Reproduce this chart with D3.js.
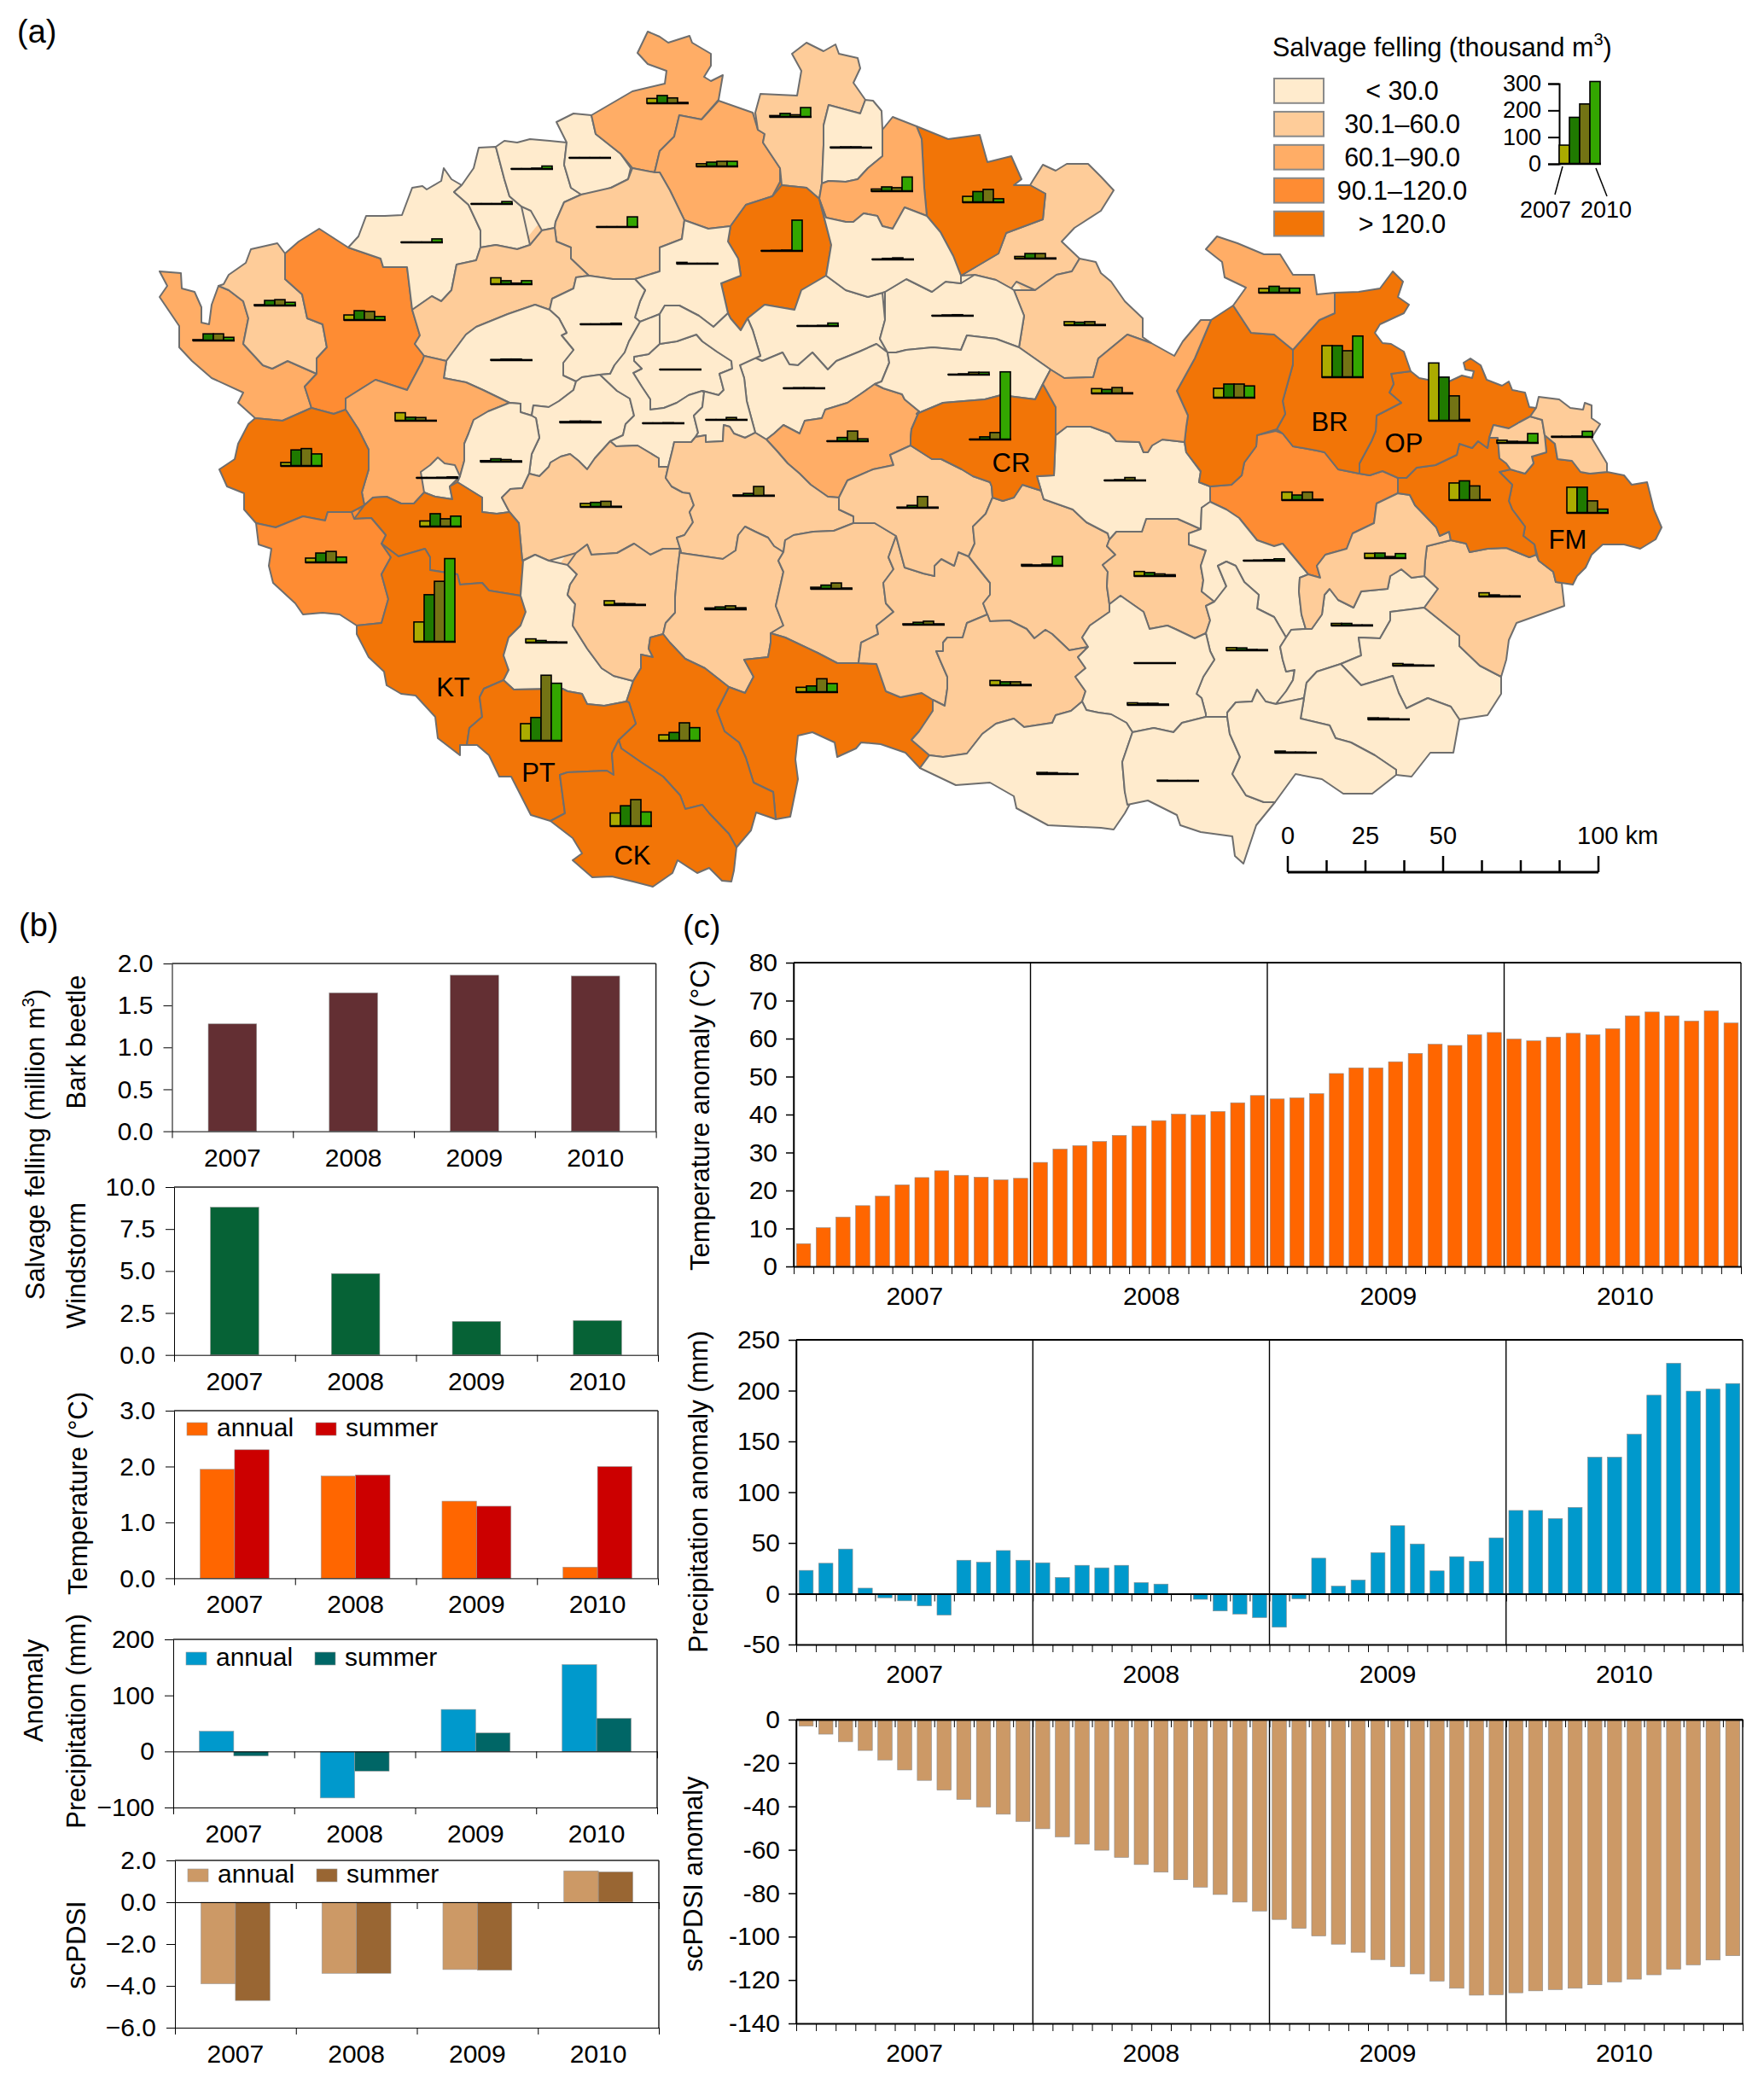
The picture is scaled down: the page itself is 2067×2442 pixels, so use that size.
<!DOCTYPE html>
<html>
<head>
<meta charset="utf-8">
<script src="https://cdn.jsdelivr.net/npm/d3@7"></script>
<style>
  html, body { margin: 0; background: #fff; }
  svg { display: block; font-family: "Liberation Sans", Arial, sans-serif; fill: #000; }
  .domain { stroke: #000; }
  .tick line { stroke: #000; }
</style>
</head>
<body>
<svg id="chart" width="2067" height="2442"></svg>
<script>
// ---- data ----
const years = ["2007", "2008", "2009", "2010"];

const barkBeetle = [1.28, 1.65, 1.86, 1.85];
const windstorm = [8.8, 4.85, 2.0, 2.05];
const tempAnnual = [1.95, 1.83, 1.38, 0.2];
const tempSummer = [2.3, 1.85, 1.29, 2.0];
const precipAnnual = [36, -83, 75, 155];
const precipSummer = [-8, -35, 33, 59];
const pdsiAnnual = [-3.9, -3.4, -3.22, 1.5];
const pdsiSummer = [-4.7, -3.4, -3.25, 1.45];

const monthlyTemp = [
  6, 10.2, 13, 16, 18.5, 21.5, 23.4, 25.2, 24, 23.5, 22.8, 23.2,
  27.4, 30.9, 31.8, 32.9, 34.5, 37, 38.4, 40.1, 39.9, 40.8, 43.1, 45,
  44.1, 44.4, 45.5, 50.8, 52.3, 52.3, 53.9, 56.1, 58.5, 58.2, 61, 61.6,
  59.9, 59.4, 60.4, 61.4, 61, 62.6, 66, 67, 66, 64.6, 67.3, 64.1
];
const monthlyPrecip = [
  23, 30, 44, 5.5, -4, -7, -12, -21, 33, 31, 42.5, 33,
  30.5, 16, 28, 25.5, 28, 11, 9.5, 0.2, -5.5, -17, -20, -23.5,
  -33, -5, 35, 7.5, 13.5, 40.5, 67, 49, 22.5, 36.5, 32, 55,
  82, 82, 74, 85, 134.5, 134.5, 157, 195.5, 227, 199.5, 201.5, 207
];
const monthlyPdsi = [
  -3, -6.7, -10.2, -14.2, -18.6, -23.2, -28, -32.5, -36.8, -40.3, -43.6, -46.9,
  -50.3, -54, -57.4, -60.2, -63.5, -66.8, -70.3, -73.8, -77.2, -80.6, -84.1, -88.2,
  -92.1, -96.2, -99.7, -103.5, -107.3, -110.6, -113.8, -117.2, -120.5, -123.8, -127, -126.8,
  -125.9, -125, -124.4, -123.8, -122.2, -120.9, -119.6, -117.6, -115, -113, -110.8, -108.8
];

const classLabels = ["< 30.0", "30.1–60.0", "60.1–90.0", "90.1–120.0", "> 120.0"];
const classColors = ["#ffebcd", "#fecc99", "#ffad66", "#fe8c33", "#f27507"];
const legendFelling = [70, 174, 224, 308];

// district class (0-4), one per outline below
const districtClass = [
  2, 1, 3, 0, 0, 0, 0, 2, 2, 1, 0, 1, 4, 1, 0, 0, 0, 0, 0, 0,
  2, 0, 0, 0, 2, 0, 1, 1, 4, 0, 4, 3, 4, 0, 1, 1, 1, 4, 4, 4,
  4, 1, 1, 1, 1, 1, 0, 3, 0, 0, 0, 0, 0, 0, 0, 0, 0, 0, 1, 1,
  4, 4, 4, 4, 4, 2, 1, 4, 2, 1, 0, 0, 4, 1, 1, 0, 2
];

// country silhouette in map units, closes small seams between the traced districts
const countryOutline = [
  [187,318],[212,320],[213,338],[228,342],[236,360],[236,378],[245,380],[248,357],[256,335],[262,333],[268,322],[288,308],[294,292],[325,285],[334,297],[350,283],[374,268],[408,290],[420,277],[429,253],[451,253],[471,252],[483,220],[495,218],[500,222],[517,212],[520,197],[529,210],[541,217],[555,197],[561,173],[581,172],[591,165],[606,167],[621,163],[644,165],[664,167],[652,143],[672,133],[693,135],[741,107],[779,98],[781,83],[759,75],[747,62],[759,37],[773,43],[783,50],[808,42],[811,50],[833,63],[833,77],[825,90],[833,95],[847,88],[842,118],[882,132],[885,132],[891,110],[934,112],[939,83],[928,63],[945,50],[965,60],[979,52],[983,63],[1005,68],[1008,80],[1000,97],[1014,117],[1023,118],[1033,130],[1034,152],[1046,137],[1074,148],[1111,163],[1148,158],[1157,190],[1185,183],[1197,210],[1188,217],[1207,217],[1210,212],[1222,193],[1237,200],[1250,192],[1275,192],[1290,207],[1305,223],[1290,247],[1259,267],[1244,283],[1265,303],[1284,307],[1290,320],[1302,330],[1318,353],[1339,373],[1339,395],[1349,402],[1376,417],[1386,400],[1407,375],[1419,375],[1445,358],[1460,337],[1435,325],[1432,307],[1413,292],[1426,277],[1450,285],[1481,298],[1500,298],[1515,322],[1540,322],[1543,345],[1564,343],[1592,342],[1617,338],[1632,318],[1644,330],[1638,348],[1651,357],[1645,367],[1617,380],[1611,390],[1620,402],[1630,403],[1645,412],[1653,435],[1663,443],[1673,445],[1698,447],[1713,440],[1725,443],[1727,435],[1717,433],[1715,425],[1723,420],[1735,428],[1742,445],[1760,452],[1768,447],[1772,457],[1787,460],[1792,477],[1800,478],[1803,465],[1827,468],[1840,478],[1855,480],[1857,472],[1865,475],[1865,490],[1875,497],[1865,513],[1883,543],[1883,553],[1903,557],[1912,568],[1930,565],[1938,597],[1947,618],[1940,632],[1922,643],[1903,638],[1878,638],[1865,650],[1858,665],[1848,675],[1843,685],[1830,683],[1833,710],[1777,730],[1768,750],[1765,773],[1759,793],[1759,813],[1743,838],[1710,843],[1703,882],[1676,882],[1654,910],[1636,908],[1608,930],[1574,930],[1549,913],[1518,907],[1494,940],[1472,967],[1457,1012],[1447,1003],[1444,980],[1407,975],[1383,967],[1379,955],[1345,938],[1321,943],[1318,953],[1305,972],[1290,970],[1228,967],[1191,947],[1188,933],[1160,917],[1120,920],[1078,900],[1061,882],[1032,872],[1009,870],[1003,877],[981,887],[978,870],[952,858],[935,862],[932,890],[935,913],[926,957],[909,960],[886,952],[880,973],[863,993],[860,1020],[857,1033],[846,1032],[831,1017],[817,1023],[794,1008],[788,1023],[765,1039],[742,1033],[717,1027],[694,1028],[671,1008],[682,1000],[671,982],[645,962],[622,955],[599,910],[585,910],[573,885],[559,873],[547,873],[539,873],[539,885],[513,865],[510,840],[487,815],[470,813],[453,803],[450,787],[432,770],[418,743],[418,733],[398,720],[378,718],[355,720],[346,707],[320,683],[315,663],[318,643],[303,638],[300,613],[286,597],[286,578],[266,570],[257,550],[275,538],[279,520],[291,497],[299,490],[279,472],[285,460],[248,443],[225,423],[210,407],[210,382],[187,348],[196,335]
];

// district outlines in map units
const districtOutlines = [
  [[187,318],[212,320],[213,338],[228,342],[236,360],[236,378],[245,380],[248,357],[256,335],[268,340],[285,353],[291,373],[285,403],[308,428],[319,432],[337,423],[371,438],[357,453],[365,478],[331,493],[299,490],[279,472],[285,460],[248,443],[225,423],[210,407],[210,382],[187,348],[196,335]],
  [[256,335],[262,333],[268,322],[288,308],[294,292],[325,285],[334,297],[334,327],[354,345],[360,373],[378,380],[383,407],[371,420],[371,438],[337,423],[319,432],[308,428],[285,403],[291,373],[285,353],[268,340]],
  [[374,268],[408,290],[446,303],[449,313],[477,313],[483,363],[492,393],[486,403],[497,417],[495,423],[477,457],[440,445],[405,467],[405,480],[391,485],[365,478],[357,453],[371,438],[371,420],[383,407],[378,380],[360,373],[354,345],[334,327],[334,297],[350,283]],
  [[408,290],[420,277],[429,253],[451,253],[471,252],[483,220],[495,218],[500,222],[517,212],[520,197],[529,210],[541,217],[532,225],[549,240],[563,270],[563,290],[558,305],[535,310],[529,340],[517,353],[506,347],[483,363],[477,313],[449,313],[446,303]],
  [[541,217],[555,197],[561,173],[581,172],[591,210],[597,230],[611,242],[621,287],[606,292],[581,287],[563,290],[563,270],[549,240],[532,225]],
  [[581,172],[591,165],[606,167],[621,163],[644,165],[664,167],[661,193],[669,220],[681,228],[661,237],[651,260],[650,267],[635,270],[622,247],[611,242],[597,230],[591,210]],
  [[652,143],[672,133],[693,135],[698,157],[727,180],[739,197],[736,210],[716,220],[702,225],[681,228],[669,220],[661,193],[664,167]],
  [[759,37],[773,43],[783,50],[808,42],[811,50],[833,63],[833,77],[825,90],[833,95],[847,88],[842,117],[822,140],[796,135],[790,160],[773,177],[767,202],[741,197],[727,180],[698,157],[693,135],[741,107],[779,98],[781,83],[759,75],[747,62]],
  [[796,135],[822,140],[842,118],[882,132],[888,152],[896,157],[894,167],[914,197],[914,213],[905,230],[874,240],[856,265],[830,268],[802,258],[785,223],[773,202],[767,202],[773,177],[790,160]],
  [[885,132],[891,110],[934,112],[939,83],[928,63],[945,50],[965,60],[979,52],[983,63],[1005,68],[1008,80],[1000,97],[1014,117],[1008,133],[971,123],[965,147],[965,170],[963,215],[960,233],[945,220],[916,217],[914,197],[894,167],[896,157],[888,152]],
  [[971,123],[1008,133],[1014,117],[1023,118],[1033,130],[1034,152],[1034,183],[1017,197],[1005,210],[991,213],[971,212],[963,215],[965,170],[965,147]],
  [[681,228],[716,220],[736,210],[741,197],[767,202],[773,202],[785,223],[802,258],[799,280],[773,290],[773,318],[744,327],[718,327],[690,323],[669,303],[669,290],[652,283],[650,267],[651,260],[661,237]],
  [[916,217],[945,220],[960,233],[974,287],[968,323],[939,340],[931,363],[896,357],[876,373],[868,387],[856,373],[853,367],[845,332],[868,323],[865,303],[853,283],[856,265],[874,240],[905,230]],
  [[563,290],[581,287],[606,292],[621,287],[635,270],[650,267],[652,283],[669,290],[669,303],[690,323],[675,325],[672,338],[647,350],[644,363],[627,357],[595,368],[558,383],[546,392],[523,423],[497,417],[486,403],[492,393],[483,363],[506,347],[517,353],[529,340],[535,310],[558,305]],
  [[744,327],[773,318],[773,290],[799,280],[802,258],[830,268],[856,265],[853,283],[865,303],[868,323],[845,332],[853,367],[836,383],[819,370],[796,358],[779,358],[773,368],[750,377],[744,372],[750,353],[756,340]],
  [[647,350],[672,338],[675,325],[690,323],[718,327],[744,327],[756,340],[750,353],[744,372],[750,377],[737,400],[732,413],[720,428],[715,438],[703,439],[682,442],[675,447],[660,440],[660,425],[672,410],[658,393],[664,390],[655,373],[644,363]],
  [[876,373],[896,357],[931,363],[939,340],[968,323],[991,340],[1017,348],[1034,343],[1037,375],[1031,397],[1040,413],[1027,403],[1007,412],[980,423],[970,433],[952,413],[935,428],[925,427],[917,413],[893,423],[882,418],[867,428],[891,417],[882,387]],
  [[523,423],[546,392],[558,383],[595,368],[627,357],[644,363],[655,373],[664,390],[658,393],[672,410],[660,425],[660,440],[675,447],[672,457],[655,470],[643,477],[625,475],[623,487],[610,483],[610,473],[597,472],[566,457],[546,448],[520,443]],
  [[743,418],[760,415],[773,403],[793,400],[816,392],[823,400],[840,412],[857,423],[858,432],[843,438],[848,457],[842,463],[823,458],[807,463],[793,472],[778,478],[762,480],[762,468],[752,453],[742,437],[752,432],[743,423]],
  [[867,428],[882,418],[893,423],[917,413],[925,427],[935,428],[952,413],[970,433],[980,423],[1007,412],[1027,403],[1040,413],[1042,425],[1033,447],[1025,450],[1008,462],[993,472],[967,480],[963,490],[943,493],[937,508],[918,498],[907,508],[898,515],[885,507],[875,470],[872,443]],
  [[405,467],[440,445],[477,457],[495,423],[497,417],[523,423],[520,443],[546,448],[566,457],[597,472],[572,482],[555,492],[549,508],[544,520],[544,540],[539,558],[527,570],[530,585],[510,582],[497,577],[485,590],[470,590],[453,582],[437,583],[427,592],[424,577],[432,550],[432,527],[420,503],[405,480]],
  [[675,447],[682,442],[703,439],[723,458],[738,467],[743,487],[733,497],[730,510],[715,517],[697,537],[688,550],[678,540],[668,532],[657,535],[645,542],[643,547],[632,558],[620,555],[623,532],[632,513],[628,490],[623,487],[625,475],[643,477],[655,470],[672,457]],
  [[703,439],[715,438],[720,428],[732,413],[737,400],[750,377],[773,368],[773,403],[760,415],[743,418],[743,423],[752,432],[742,437],[752,453],[762,468],[762,480],[778,478],[793,472],[807,463],[823,458],[825,460],[823,477],[813,487],[818,507],[815,512],[810,518],[790,518],[788,527],[783,547],[772,547],[772,537],[747,522],[722,523],[715,517],[730,510],[733,497],[743,487],[738,467],[723,458]],
  [[773,368],[779,358],[796,358],[819,370],[836,383],[853,367],[856,373],[868,387],[876,373],[882,387],[891,417],[867,428],[872,443],[875,470],[885,507],[873,513],[860,508],[855,500],[848,498],[847,517],[827,518],[827,510],[815,512],[818,507],[813,487],[823,477],[825,460],[823,458],[842,463],[848,457],[843,438],[858,432],[857,423],[840,412],[823,400],[816,392],[793,400],[773,403]],
  [[898,515],[907,508],[918,498],[937,508],[943,493],[963,490],[967,480],[993,472],[1008,462],[1025,450],[1035,455],[1057,462],[1060,468],[1077,482],[1068,503],[1067,513],[1067,522],[1043,533],[1047,545],[1023,550],[993,563],[983,583],[970,582],[950,568],[937,555],[923,543],[910,528]],
  [[597,472],[610,473],[610,483],[623,487],[628,490],[632,513],[623,532],[620,555],[612,572],[598,573],[588,583],[597,600],[582,602],[565,600],[565,583],[536,565],[539,558],[544,540],[544,520],[549,508],[555,492],[572,482]],
  [[588,583],[598,573],[612,572],[620,555],[632,558],[643,547],[645,542],[657,535],[668,532],[678,540],[688,550],[697,537],[715,517],[722,523],[747,522],[772,537],[772,547],[783,547],[780,560],[787,570],[800,577],[808,578],[813,592],[808,600],[812,612],[802,627],[793,630],[797,643],[777,643],[762,650],[743,637],[723,648],[693,650],[688,638],[675,648],[643,657],[627,650],[612,657],[608,613],[597,600]],
  [[783,547],[788,527],[790,518],[810,518],[815,512],[827,510],[827,518],[847,517],[848,498],[855,500],[860,508],[873,513],[885,507],[898,515],[910,528],[923,543],[937,555],[950,568],[970,582],[983,583],[983,597],[1000,605],[1000,613],[977,622],[953,623],[930,627],[920,633],[918,647],[907,640],[900,630],[885,623],[873,617],[865,627],[862,645],[847,655],[826,652],[798,648],[797,643],[793,630],[802,627],[812,612],[808,600],[813,592],[808,578],[800,577],[787,570],[780,560]],
  [[299,490],[331,493],[365,478],[391,485],[405,480],[420,503],[432,527],[432,550],[424,577],[427,592],[412,600],[384,600],[381,610],[355,605],[323,618],[300,613],[286,597],[286,578],[266,570],[257,550],[275,538],[279,520],[291,497]],
  [[513,536],[521,543],[533,545],[539,558],[527,570],[530,585],[510,582],[497,577],[493,553],[504,545]],
  [[415,608],[427,592],[437,583],[453,582],[470,590],[485,590],[497,577],[510,582],[530,585],[527,570],[536,565],[565,583],[565,600],[582,602],[597,600],[608,613],[612,657],[613,657],[610,698],[573,692],[565,683],[539,685],[536,673],[504,668],[504,653],[498,643],[467,652],[447,637],[452,627],[435,607]],
  [[300,613],[323,618],[355,605],[381,610],[384,600],[412,600],[415,608],[435,607],[452,627],[447,637],[458,653],[447,673],[455,702],[447,730],[418,733],[398,720],[378,718],[355,720],[346,707],[320,683],[315,663],[318,643],[303,638]],
  [[447,637],[467,652],[498,643],[504,653],[504,668],[536,673],[539,685],[565,683],[573,692],[610,698],[616,717],[610,733],[596,747],[590,768],[596,785],[590,797],[567,807],[562,817],[565,840],[550,853],[547,873],[539,873],[539,885],[513,865],[510,840],[487,815],[470,813],[453,803],[450,787],[432,770],[418,743],[418,733],[447,730],[455,702],[447,673],[458,653]],
  [[613,657],[627,650],[643,657],[665,662],[676,673],[668,685],[665,697],[674,708],[671,733],[688,760],[705,783],[719,792],[742,798],[737,813],[734,822],[708,827],[688,825],[682,813],[665,810],[659,807],[602,808],[590,797],[596,785],[590,768],[596,747],[610,733],[616,717],[610,698]],
  [[665,662],[675,648],[688,638],[693,650],[723,648],[743,637],[762,650],[777,643],[797,643],[794,667],[791,700],[791,718],[780,730],[777,743],[762,747],[760,760],[765,770],[751,767],[751,783],[742,798],[719,792],[705,783],[688,760],[671,733],[674,708],[665,697],[668,685],[676,673]],
  [[794,667],[797,643],[798,648],[826,652],[847,655],[862,645],[865,627],[873,617],[885,623],[900,630],[907,640],[918,647],[912,657],[918,670],[909,710],[918,733],[903,742],[903,753],[900,770],[872,773],[883,793],[873,812],[854,805],[826,783],[803,772],[785,753],[777,743],[780,730],[791,718],[791,700]],
  [[918,647],[920,633],[930,627],[953,623],[977,622],[1000,613],[1025,613],[1050,628],[1041,653],[1047,667],[1035,683],[1038,707],[1047,717],[1027,733],[1029,743],[1009,753],[1006,777],[981,777],[958,765],[920,747],[903,742],[918,733],[909,710],[918,670],[912,657]],
  [[883,793],[872,773],[900,770],[903,753],[903,742],[920,747],[958,765],[981,777],[1006,777],[1027,778],[1038,810],[1055,817],[1080,812],[1093,820],[1093,833],[1077,857],[1068,867],[1089,885],[1078,900],[1061,882],[1032,872],[1009,870],[1003,877],[981,887],[978,870],[952,858],[935,862],[932,890],[935,913],[926,957],[909,960],[906,928],[883,917],[874,888],[866,870],[849,857],[840,833],[854,805],[873,812]],
  [[762,747],[777,743],[785,753],[803,772],[826,783],[854,805],[840,833],[849,857],[866,870],[874,888],[883,917],[906,928],[909,960],[886,952],[880,973],[863,993],[854,977],[831,953],[823,943],[803,948],[797,932],[777,910],[751,893],[728,877],[725,867],[745,848],[737,823],[734,822],[737,813],[742,798],[751,783],[751,767],[765,770],[760,760]],
  [[547,873],[550,853],[565,840],[562,817],[567,807],[590,797],[602,808],[659,807],[665,810],[682,813],[688,825],[708,827],[734,822],[737,823],[745,848],[725,867],[717,883],[719,908],[711,903],[665,905],[656,908],[662,953],[645,962],[622,955],[599,910],[585,910],[573,885],[559,873]],
  [[725,867],[728,877],[751,893],[777,910],[797,932],[803,948],[823,943],[831,953],[854,977],[863,993],[860,1020],[857,1033],[846,1032],[831,1017],[817,1023],[794,1008],[788,1023],[765,1039],[742,1033],[717,1027],[694,1028],[671,1008],[682,1000],[671,982],[645,962],[662,953],[656,908],[665,905],[711,903],[719,908],[717,883]],
  [[1050,628],[1060,665],[1082,672],[1095,675],[1095,663],[1103,655],[1118,663],[1123,647],[1135,652],[1160,683],[1160,697],[1152,707],[1157,720],[1133,730],[1128,747],[1110,747],[1105,753],[1105,763],[1097,763],[1103,777],[1110,793],[1110,807],[1107,827],[1093,820],[1080,812],[1055,817],[1038,810],[1027,778],[1006,777],[1009,753],[1029,743],[1027,733],[1047,717],[1038,707],[1035,683],[1047,667],[1041,653]],
  [[1000,605],[983,597],[983,583],[993,563],[1023,550],[1047,545],[1043,533],[1067,522],[1092,538],[1103,538],[1127,550],[1140,558],[1160,565],[1162,570],[1163,583],[1155,602],[1150,607],[1140,617],[1142,637],[1135,652],[1123,647],[1118,663],[1103,655],[1095,663],[1095,675],[1082,672],[1060,665],[1050,628],[1025,613],[1000,613]],
  [[1140,617],[1150,607],[1155,602],[1163,583],[1175,587],[1188,583],[1198,568],[1220,575],[1223,585],[1257,597],[1273,612],[1298,625],[1300,632],[1297,640],[1307,650],[1292,662],[1298,670],[1297,687],[1300,708],[1300,717],[1277,733],[1268,747],[1275,758],[1253,762],[1233,743],[1225,738],[1212,748],[1203,737],[1183,727],[1160,728],[1157,720],[1152,707],[1160,697],[1160,683],[1135,652],[1142,637]],
  [[1300,632],[1308,623],[1338,623],[1343,608],[1360,608],[1380,608],[1407,620],[1393,625],[1393,638],[1413,645],[1407,663],[1410,680],[1408,693],[1423,705],[1413,710],[1418,727],[1413,742],[1400,748],[1377,737],[1368,733],[1347,737],[1340,717],[1320,703],[1313,698],[1300,708],[1297,687],[1298,670],[1292,662],[1307,650],[1297,640]],
  [[1107,827],[1110,807],[1110,793],[1103,777],[1097,763],[1105,763],[1105,753],[1110,747],[1128,747],[1133,730],[1157,720],[1160,728],[1183,727],[1203,737],[1212,748],[1225,738],[1233,743],[1253,762],[1275,758],[1263,770],[1272,783],[1260,793],[1272,810],[1268,822],[1255,833],[1237,838],[1233,847],[1200,852],[1188,842],[1167,848],[1151,860],[1133,883],[1105,887],[1089,885],[1068,867],[1077,857],[1093,833],[1093,820]],
  [[1215,558],[1235,557],[1237,510],[1250,500],[1278,500],[1300,508],[1308,517],[1335,518],[1340,530],[1345,530],[1350,522],[1362,515],[1388,518],[1390,530],[1407,553],[1405,565],[1418,570],[1418,588],[1408,595],[1407,620],[1380,608],[1360,608],[1343,608],[1338,623],[1308,623],[1300,632],[1298,625],[1273,612],[1257,597],[1223,585],[1220,575]],
  [[1418,570],[1443,568],[1455,557],[1458,542],[1472,523],[1473,510],[1495,505],[1503,508],[1515,523],[1543,528],[1552,530],[1568,550],[1593,555],[1605,557],[1620,552],[1638,560],[1638,578],[1613,590],[1610,613],[1585,625],[1578,643],[1553,650],[1543,663],[1547,677],[1533,673],[1503,637],[1493,640],[1473,633],[1452,607],[1437,597],[1418,588]],
  [[1418,588],[1437,597],[1452,607],[1473,633],[1493,640],[1503,637],[1533,673],[1523,677],[1522,693],[1525,720],[1530,737],[1513,738],[1507,747],[1493,723],[1473,713],[1475,697],[1458,682],[1448,663],[1437,658],[1427,663],[1437,687],[1423,705],[1408,693],[1410,680],[1407,663],[1413,645],[1393,638],[1393,625],[1407,620],[1408,595]],
  [[1423,705],[1437,687],[1427,663],[1437,658],[1448,663],[1458,682],[1475,697],[1473,713],[1493,723],[1507,747],[1500,758],[1503,773],[1507,787],[1517,785],[1515,797],[1507,810],[1495,825],[1483,822],[1473,808],[1467,822],[1448,823],[1438,835],[1438,840],[1413,840],[1413,837],[1408,818],[1402,813],[1410,793],[1423,773],[1418,763],[1413,742],[1418,727],[1413,710]],
  [[1320,748],[1330,750],[1340,762],[1350,750],[1362,745],[1363,753],[1377,767],[1385,770],[1390,762],[1388,793],[1388,807],[1375,813],[1367,815],[1368,803],[1355,805],[1353,797],[1338,792],[1325,783],[1313,775],[1318,763]],
  [[1300,717],[1300,708],[1313,698],[1320,703],[1340,717],[1347,737],[1368,733],[1377,737],[1400,748],[1413,742],[1418,763],[1423,773],[1410,793],[1402,813],[1408,818],[1413,837],[1413,840],[1385,847],[1375,858],[1352,853],[1327,858],[1320,847],[1302,837],[1287,835],[1273,832],[1268,822],[1272,810],[1260,793],[1272,783],[1263,770],[1275,758],[1268,747],[1277,733]],
  [[1078,900],[1089,885],[1105,887],[1133,883],[1151,860],[1167,848],[1188,842],[1200,852],[1233,847],[1237,838],[1255,833],[1268,822],[1273,832],[1287,835],[1302,837],[1320,847],[1327,858],[1315,893],[1318,928],[1324,942],[1318,953],[1305,972],[1290,970],[1228,967],[1191,947],[1188,933],[1160,917],[1120,920]],
  [[1327,858],[1352,853],[1375,858],[1385,847],[1413,840],[1438,840],[1441,860],[1453,887],[1444,907],[1460,932],[1481,940],[1494,940],[1472,967],[1457,1012],[1447,1003],[1444,980],[1407,975],[1383,967],[1379,955],[1345,938],[1321,943],[1318,928],[1315,893]],
  [[1507,747],[1513,738],[1530,737],[1537,737],[1549,720],[1552,697],[1558,690],[1568,703],[1586,712],[1595,693],[1626,690],[1629,675],[1642,667],[1654,677],[1669,675],[1685,690],[1669,712],[1629,717],[1629,727],[1617,748],[1592,747],[1595,768],[1571,778],[1543,787],[1531,800],[1528,818],[1495,825],[1507,810],[1515,797],[1517,785],[1507,787],[1503,773],[1500,758]],
  [[1669,712],[1710,745],[1710,757],[1734,780],[1759,793],[1759,813],[1743,838],[1710,843],[1700,828],[1673,818],[1648,830],[1639,812],[1632,792],[1595,803],[1571,778],[1595,768],[1592,747],[1617,748],[1629,727],[1629,717]],
  [[1571,778],[1595,803],[1632,792],[1639,812],[1648,830],[1673,818],[1700,828],[1710,843],[1703,882],[1676,882],[1654,910],[1636,908],[1636,902],[1611,885],[1583,870],[1565,865],[1558,850],[1524,842],[1528,818],[1531,800],[1543,787]],
  [[1495,825],[1528,818],[1524,842],[1558,850],[1565,865],[1583,870],[1611,885],[1636,902],[1636,908],[1608,930],[1574,930],[1549,913],[1518,907],[1494,940],[1481,940],[1460,932],[1444,907],[1453,887],[1441,860],[1438,840],[1438,835],[1448,823],[1467,822],[1473,808],[1483,822]],
  [[1700,633],[1718,637],[1722,647],[1743,643],[1765,642],[1792,653],[1800,650],[1803,657],[1820,670],[1823,682],[1830,683],[1833,710],[1777,730],[1768,750],[1765,773],[1759,793],[1734,780],[1710,757],[1710,745],[1669,712],[1685,690],[1669,675],[1670,657],[1672,640]],
  [[1547,677],[1543,663],[1553,650],[1578,643],[1585,625],[1610,613],[1613,590],[1638,578],[1652,580],[1658,592],[1683,618],[1687,628],[1698,623],[1700,633],[1672,640],[1670,657],[1669,675],[1654,677],[1642,667],[1629,675],[1626,690],[1595,693],[1586,712],[1568,703],[1558,690],[1552,697],[1549,720],[1537,737],[1530,737],[1525,720],[1522,693],[1523,677],[1533,673]],
  [[1822,520],[1825,538],[1842,540],[1852,553],[1863,555],[1883,553],[1903,557],[1912,568],[1930,565],[1938,597],[1947,618],[1940,632],[1922,643],[1903,638],[1878,638],[1865,650],[1858,665],[1848,675],[1843,685],[1823,682],[1820,670],[1803,657],[1798,638],[1785,628],[1787,617],[1772,597],[1768,587],[1772,568],[1757,553],[1770,550],[1787,555],[1797,543],[1795,535],[1812,530],[1810,510]],
  [[1743,525],[1745,513],[1755,513],[1757,537],[1765,543],[1770,550],[1757,553],[1772,568],[1768,587],[1772,597],[1787,617],[1785,628],[1798,638],[1800,650],[1792,653],[1765,642],[1743,643],[1722,647],[1718,637],[1700,633],[1698,623],[1687,628],[1683,618],[1658,592],[1652,580],[1638,578],[1638,560],[1648,560],[1660,548],[1682,545],[1707,533],[1710,520],[1725,525],[1732,517]],
  [[1653,435],[1663,443],[1673,445],[1698,447],[1713,440],[1725,443],[1727,435],[1717,433],[1715,425],[1723,420],[1735,428],[1742,445],[1760,452],[1768,447],[1772,457],[1787,460],[1792,477],[1800,478],[1793,488],[1780,495],[1768,502],[1750,498],[1745,513],[1743,525],[1732,517],[1725,525],[1710,520],[1707,533],[1682,545],[1660,548],[1648,560],[1638,560],[1620,552],[1605,557],[1593,555],[1593,543],[1607,517],[1612,505],[1613,487],[1642,472],[1628,460],[1633,450],[1630,438]],
  [[1515,410],[1546,375],[1564,367],[1564,343],[1592,342],[1617,338],[1632,318],[1644,330],[1638,348],[1651,357],[1645,367],[1617,380],[1611,390],[1620,402],[1630,403],[1645,412],[1653,435],[1630,438],[1633,450],[1628,460],[1642,472],[1613,487],[1612,505],[1607,517],[1593,543],[1593,555],[1568,550],[1552,530],[1543,528],[1515,523],[1503,508],[1496,503],[1506,485],[1503,470],[1515,427]],
  [[1445,358],[1466,390],[1493,392],[1515,410],[1515,427],[1503,470],[1506,485],[1496,503],[1473,510],[1472,523],[1458,542],[1455,557],[1443,568],[1418,570],[1405,565],[1407,552],[1390,530],[1388,517],[1390,500],[1392,487],[1379,458],[1400,420],[1419,375]],
  [[1426,277],[1450,285],[1481,298],[1500,298],[1515,322],[1540,322],[1543,345],[1564,343],[1564,367],[1546,375],[1515,410],[1493,392],[1466,390],[1445,358],[1460,337],[1435,325],[1432,307],[1413,292]],
  [[1207,217],[1210,212],[1222,193],[1237,200],[1250,192],[1275,192],[1290,207],[1305,223],[1290,247],[1259,267],[1244,283],[1265,303],[1256,318],[1238,322],[1213,340],[1191,330],[1185,338],[1167,328],[1142,322],[1126,323],[1170,297],[1179,273],[1222,257],[1225,227]],
  [[1074,148],[1111,163],[1148,158],[1157,190],[1185,183],[1197,210],[1188,217],[1207,217],[1225,227],[1222,257],[1179,273],[1170,297],[1126,323],[1117,300],[1102,272],[1086,253],[1083,220],[1080,163]],
  [[963,215],[971,212],[991,213],[1005,210],[1017,197],[1034,183],[1034,152],[1046,137],[1074,148],[1080,163],[1083,220],[1086,253],[1060,243],[1046,268],[1034,265],[1028,253],[1012,250],[1000,260],[991,260],[968,255],[960,233]],
  [[1265,303],[1284,307],[1290,320],[1302,330],[1318,353],[1339,373],[1339,395],[1349,402],[1321,392],[1287,420],[1281,442],[1247,443],[1231,433],[1194,407],[1200,370],[1188,340],[1213,340],[1238,322],[1256,318]],
  [[1037,342],[1062,327],[1092,342],[1108,330],[1126,332],[1142,322],[1167,328],[1185,338],[1188,340],[1200,370],[1194,407],[1167,397],[1133,393],[1126,410],[1093,407],[1062,410],[1050,413],[1040,413],[1031,397],[1037,375]],
  [[1040,413],[1050,413],[1062,410],[1093,407],[1126,410],[1133,393],[1167,397],[1194,407],[1231,433],[1222,450],[1213,468],[1173,463],[1154,468],[1105,472],[1074,485],[1077,482],[1060,468],[1057,462],[1035,455],[1025,450],[1033,447],[1042,425]],
  [[1077,482],[1074,485],[1105,472],[1154,468],[1173,463],[1213,468],[1222,450],[1237,477],[1237,510],[1235,557],[1215,558],[1220,575],[1198,568],[1188,583],[1175,587],[1163,583],[1162,570],[1160,565],[1140,558],[1127,550],[1103,538],[1092,538],[1067,522],[1067,513],[1068,503]],
  [[1793,488],[1807,492],[1810,510],[1812,530],[1795,535],[1797,543],[1787,555],[1770,550],[1765,543],[1757,537],[1755,513],[1745,513],[1750,498],[1768,502],[1780,495]],
  [[1800,478],[1803,465],[1827,468],[1840,478],[1855,480],[1857,472],[1865,475],[1865,490],[1875,497],[1865,513],[1883,543],[1883,553],[1863,555],[1852,553],[1842,540],[1825,538],[1822,520],[1810,510],[1807,492],[1793,488]],
  [[960,233],[968,255],[991,260],[1000,260],[1012,250],[1028,253],[1034,265],[1046,268],[1060,243],[1086,253],[1102,272],[1117,300],[1126,323],[1126,332],[1108,330],[1092,342],[1062,327],[1037,342],[1034,343],[1017,348],[991,340],[968,323],[974,287]],
  [[1231,433],[1247,443],[1281,442],[1287,420],[1321,392],[1349,402],[1376,417],[1386,400],[1407,375],[1419,375],[1400,420],[1379,458],[1392,487],[1390,500],[1388,518],[1362,515],[1350,522],[1345,530],[1340,530],[1335,518],[1308,517],[1300,508],[1278,500],[1250,500],[1237,510],[1237,477],[1222,450]]
];

// left end of each little bar chart's base line, map units
const chartSites = [
  [226,399],[298,358],[403,375],[470,284],[552,239],[599,198],[667,185],[758,121],[816,195],[902,137],
  [973,173],[699,266],[892,294],[575,333],[793,309],[680,380],[934,382],[575,422],[773,433],[918,455],
  [463,493],[656,495],[753,496],[827,492],[969,517],[563,541],[680,594],[859,581],[329,546],[488,560],
  [492,617],[358,659],[485,752],[616,753],[708,709],[826,714],[950,690],[933,811],[772,868],[610,868],
  [715,968],[1058,732],[1051,595],[1197,663],[1329,675],[1160,803],[1294,563],[1502,586],[1457,657],[1437,762],
  [1329,777],[1321,826],[1215,907],[1356,915],[1560,733],[1632,780],[1603,843],[1494,882],[1733,699],[1599,654],
  [1836,601],[1698,586],[1674,493],[1549,442],[1422,466],[1475,343],[1189,303],[1128,237],[1021,224],[1247,381],
  [1092,370],[1111,439],[1136,515],[1754,519],[1818,512],[1022,304],[1279,461]
];

// salvage felling by bark beetle 2007-2010 (thousand m3), one row per district
const fellingByDistrict = [
  [3,25,25,12],[3,19,22,12],[19,35,32,13],[1,1,1,13],[1,1,1,9],[1,1,3,11],[1,1,1,1],[18,29,20,3],[10,16,19,19],[5,13,8,35],
  [2,3,3,1],[1,1,1,38],[1,2,3,115],[24,13,4,13],[5,1,1,1],[1,1,2,4],[1,1,2,11],[2,4,4,1],[0.5,0.5,0.5,0.5],[1,2,2,1],
  [30,13,12,1],[3,5,5,3],[1,1,2,1],[1,1,9,1],[1,14,38,9],[4,11,8,3],[13,17,21,2],[3,9,35,2],[13,60,65,45],[1,1,2,4],
  [21,48,29,39],[16,35,41,20],[74,176,226,311],[14,8,3,2],[16,6,5,2],[5,9,13,6],[6,14,22,3],[18,23,50,32],[22,31,67,49],[64,87,245,215],
  [49,76,99,53],[3,9,13,3],[2,9,42,2],[5,3,6,35],[17,13,8,5],[18,13,13,3],[1,3,11,1],[30,19,30,3],[1,2,4,7],[10,9,3,2],
  [0.5,0.5,0.5,0.5],[8,6,6,3],[6,5,2,1],[2,1,1,1],[8,8,2,2],[8,5,2,1],[6,5,2,1],[6,2,2,1],[14,6,2,2],[18,19,6,17],
  [96,96,45,14],[64,72,53,2],[216,163,93,5],[118,118,99,154],[35,51,51,44],[16,24,17,17],[8,19,19,2],[22,40,48,13],[8,16,13,53],[13,11,13,2],
  [1,3,4,1],[1,3,9,9],[1,10,26,253],[10,6,5,35],[2,2,3,21],[1,4,6,1],[18,15,22,2]
];
const yearColors = ["#abab00", "#1f7a00", "#737314", "#33a600"];

const mapLabels = ["KT", "PT", "CK", "CR", "BR", "OP", "FM"];
const mapLabelSites = [[531,816],[631,916],[741,1013],[1185,553],[1558,505],[1645,530],[1837,643]];

// ---- drawing ----
const svg = d3.select("#chart");
const tickFont = 30;
const sideFont = 31;

function label(g, text, x, y, size, anchor) {
  return g.append("text").attr("x", x).attr("y", y)
    .attr("font-size", size).attr("text-anchor", anchor || "start").text(text);
}

function rotatedLabel(text, x, y, size) {
  return svg.append("text")
    .attr("transform", `translate(${x},${y}) rotate(-90)`)
    .attr("font-size", size).attr("text-anchor", "middle").text(text);
}

// (a) map
const features = districtOutlines.map((ring, i) => ({
  type: "Feature",
  properties: { cls: districtClass[i] },
  geometry: { type: "Polygon", coordinates: [ring.concat([ring[0]])] }
}));
const countryShape = {
  type: "Feature",
  geometry: { type: "Polygon", coordinates: [countryOutline.concat([countryOutline[0]])] }
};
const projection = d3.geoIdentity();
const path = d3.geoPath(projection);

svg.append("clipPath").attr("id", "country").append("path").attr("d", path(countryShape));

// districts spread a little under each other so no white shows along shared borders
svg.append("g").attr("clip-path", "url(#country)").selectAll("path")
  .data(features)
  .join("path")
  .attr("d", path)
  .attr("fill", d => classColors[d.properties.cls])
  .attr("stroke", d => classColors[d.properties.cls])
  .attr("stroke-width", 16)
  .attr("stroke-linejoin", "round");

svg.append("g").selectAll("path")
  .data(features)
  .join("path")
  .attr("d", path)
  .attr("fill", d => classColors[d.properties.cls])
  .attr("stroke", "#6e6e6e")
  .attr("stroke-width", 2)
  .attr("stroke-linejoin", "round");

const miniX = d3.scaleBand().domain(years).range([0, 48]);
const miniH = d3.scaleLinear().domain([0, 300]).range([0, 94]);

function miniChart(g, values) {
  g.selectAll("rect")
    .data(values)
    .join("rect")
    .attr("x", (d, i) => miniX(years[i]))
    .attr("y", d => -miniH(d))
    .attr("width", miniX.bandwidth())
    .attr("height", d => miniH(d))
    .attr("fill", (d, i) => yearColors[i])
    .attr("stroke", "#000")
    .attr("stroke-width", 1.6);
  g.append("line").attr("x1", 0).attr("x2", 49).attr("stroke", "#000").attr("stroke-width", 2.4);
}

svg.append("g").selectAll("g")
  .data(fellingByDistrict)
  .join("g")
  .attr("transform", (d, i) => `translate(${projection(chartSites[i]).join(",")})`)
  .each(function (d) { miniChart(d3.select(this), d); });

const mapText = svg.append("g").attr("font-size", 31).attr("text-anchor", "middle");
mapLabels.forEach((t, i) => {
  const p = projection(mapLabelSites[i]);
  mapText.append("text").attr("x", p[0]).attr("y", p[1]).text(t);
});

// map legend
const legend = svg.append("g");
const title = label(legend, "Salvage felling (thousand m", 1491, 66, 30.5);
title.append("tspan").attr("font-size", 20).attr("dy", -13).text("3");
title.append("tspan").attr("dy", 13).text(")");
const legendRow = d3.scaleBand().domain(classLabels).range([92, 276.5]).paddingInner(0.26).paddingOuter(0);
legend.selectAll("rect").data(classLabels).join("rect")
  .attr("x", 1493).attr("width", 58)
  .attr("y", d => legendRow(d)).attr("height", legendRow.bandwidth())
  .attr("fill", (d, i) => classColors[i])
  .attr("stroke", "#8a8a8a").attr("stroke-width", 2);
legend.selectAll("text.cls").data(classLabels).join("text").attr("class", "cls")
  .attr("x", 1643).attr("y", d => legendRow(d) + legendRow.bandwidth() / 2 + 11)
  .attr("font-size", 30.5).attr("text-anchor", "middle").text(d => d);

const legendChart = svg.append("g").attr("transform", "translate(1827,192)");
const legendY = d3.scaleLinear().domain([0, 300]).range([0, -94]);
const legendAxis = legendChart.append("g")
  .call(d3.axisLeft(legendY).tickValues([0, 100, 200, 300]).tickSize(13).tickPadding(8).tickFormat(d3.format("d")));
legendAxis.selectAll("text").attr("font-size", 27).attr("font-family", "inherit");
legendAxis.selectAll("line").attr("stroke-width", 2);
legendAxis.select(".domain").attr("stroke-width", 2);
miniChart(legendChart, legendFelling);
legendChart.append("line").attr("x1", 4).attr("y1", 3).attr("x2", -5).attr("y2", 36).attr("stroke", "#000").attr("stroke-width", 1.5);
legendChart.append("line").attr("x1", 43).attr("y1", 5).attr("x2", 56).attr("y2", 38).attr("stroke", "#000").attr("stroke-width", 1.5);
label(legend, "2007", 1811, 255, 27, "middle");
label(legend, "2010", 1882, 255, 27, "middle");

// scale bar
const km = d3.scaleLinear().domain([0, 100]).range([1509, 1873]);
const scaleBar = svg.append("g").attr("stroke", "#000");
scaleBar.append("line").attr("x1", km(0)).attr("x2", km(100)).attr("y1", 1022).attr("y2", 1022).attr("stroke-width", 3);
d3.range(0, 100.1, 12.5).forEach(k => {
  scaleBar.append("line").attr("x1", km(k)).attr("x2", km(k))
    .attr("y1", 1022).attr("y2", k % 50 === 0 ? 1003 : 1008).attr("stroke-width", 2.5);
});
const scaleText = svg.append("g").attr("font-size", 29).attr("text-anchor", "middle");
[0, 25, 50].forEach(k => scaleText.append("text").attr("x", km(k)).attr("y", 989).text(k));
label(svg, "100 km", 1848, 989, 29);

// panel letters
label(svg, "(a)", 20, 50, 38);
label(svg, "(b)", 22, 1097, 38);
label(svg, "(c)", 800, 1099, 38);

// (b) annual bar panels
function annualPanel(cfg) {
  const x = d3.scaleBand().domain(years).range([cfg.left, cfg.right]);
  const edges = d3.scaleLinear().domain([0, 4]).range([cfg.left, cfg.right]);
  const y = d3.scaleLinear().domain(cfg.domain).range([cfg.bottom, cfg.top]);
  const g = svg.append("g");

  const groupW = x.bandwidth() * (cfg.series.length > 1 ? 0.57 : 0.4);
  const inner = d3.scaleBand().domain(d3.range(cfg.series.length)).range([0, groupW]);
  cfg.series.forEach((values, s) => {
    g.append("g").selectAll("rect").data(values).join("rect")
      .attr("x", (d, i) => x(years[i]) + (x.bandwidth() - groupW) / 2 + inner(s))
      .attr("width", inner.bandwidth())
      .attr("y", d => y(Math.max(0, d)))
      .attr("height", d => Math.abs(y(d) - y(0)))
      .attr("fill", cfg.colors[s])
      .attr("stroke", "#999").attr("stroke-width", 0.6);
  });

  g.append("line").attr("x1", cfg.left).attr("x2", cfg.right).attr("y1", cfg.top).attr("y2", cfg.top).attr("stroke", "#222").attr("stroke-width", 1.5);
  g.append("line").attr("x1", cfg.right).attr("x2", cfg.right).attr("y1", cfg.top).attr("y2", cfg.bottom).attr("stroke", "#222").attr("stroke-width", 1.5);

  const yAxis = g.append("g").attr("transform", `translate(${cfg.left},0)`)
    .call(d3.axisLeft(y).tickValues(cfg.ticks).tickSize(10).tickSizeOuter(0).tickPadding(12).tickFormat(cfg.format));
  yAxis.selectAll("text").attr("font-size", tickFont).attr("font-family", "inherit");

  const edgeAxis = d3.axisBottom(edges).tickValues([0, 1, 2, 3, 4]).tickSize(8).tickSizeOuter(0).tickFormat("");
  g.append("g").attr("transform", `translate(0,${cfg.bottom})`).call(edgeAxis);
  if (cfg.domain[0] < 0) {
    g.append("g").attr("transform", `translate(0,${y(0)})`).call(edgeAxis);
  }

  const yearAxis = g.append("g").attr("transform", `translate(0,${cfg.bottom})`)
    .call(d3.axisBottom(x).tickSize(0));
  yearAxis.select(".domain").remove();
  yearAxis.selectAll("text").attr("font-size", tickFont).attr("font-family", "inherit").attr("y", 41).attr("dy", 0);

  if (cfg.series.length > 1) {
    const names = ["annual", "summer"];
    names.forEach((n, s) => {
      const sx = cfg.left + [15, 166][s];
      g.append("rect").attr("x", sx).attr("y", cfg.legendY - 15).attr("width", 24).attr("height", 15)
        .attr("fill", cfg.colors[s]).attr("stroke", "#999").attr("stroke-width", 0.6);
      label(g, n, sx + 35, cfg.legendY + 1, tickFont);
    });
  }
}

const fmt1 = d => d3.format(".1f")(d).replace("-", "−");
const fmt0 = d => d3.format("d")(d).replace("-", "−");

annualPanel({ left: 201.5, right: 768.6, top: 1129, bottom: 1325.6, domain: [0, 2], ticks: [0, 0.5, 1, 1.5, 2], format: fmt1, series: [barkBeetle], colors: ["#632f33"] });
annualPanel({ left: 204, right: 771, top: 1391, bottom: 1587.7, domain: [0, 10], ticks: [0, 2.5, 5, 7.5, 10], format: fmt1, series: [windstorm], colors: ["#066236"] });
annualPanel({ left: 204, right: 771, top: 1653, bottom: 1849.4, domain: [0, 3], ticks: [0, 1, 2, 3], format: fmt1, series: [tempAnnual, tempSummer], colors: ["#ff6600", "#cc0000"], legendY: 1682 });
annualPanel({ left: 203, right: 770, top: 1921, bottom: 2118, domain: [-100, 200], ticks: [-100, 0, 100, 200], format: fmt0, series: [precipAnnual, precipSummer], colors: ["#0099cc", "#006666"], legendY: 1951 });
annualPanel({ left: 205, right: 772, top: 2180, bottom: 2376, domain: [-6, 2], ticks: [-6, -4, -2, 0, 2], format: fmt1, series: [pdsiAnnual, pdsiSummer], colors: ["#cc9966", "#996633"], legendY: 2205 });

const felling = rotatedLabel("Salvage felling (million m", 52, 1341, sideFont);
felling.append("tspan").attr("font-size", 20).attr("dy", -12).text("3");
felling.append("tspan").attr("dy", 12).text(")");
rotatedLabel("Bark beetle", 100, 1221, sideFont);
rotatedLabel("Windstorm", 100, 1483, sideFont);
rotatedLabel("Temperature (°C)", 102, 1750, sideFont);
rotatedLabel("Anomaly", 50, 1981, sideFont);
rotatedLabel("Precipitation (mm)", 100, 2017, sideFont);
rotatedLabel("scPDSI", 100, 2279, sideFont);

// (c) monthly bar panels
function monthlyPanel(cfg) {
  const months = d3.range(48);
  const x = d3.scaleBand().domain(months).range([cfg.left, cfg.right]).paddingInner(0.28).paddingOuter(0.14);
  const edges = d3.scaleLinear().domain([0, 48]).range([cfg.left, cfg.right]);
  const y = d3.scaleLinear().domain(cfg.domain).range([cfg.bottom, cfg.top]);
  const g = svg.append("g");

  g.append("g").selectAll("rect").data(cfg.values).join("rect")
    .attr("x", (d, i) => x(i))
    .attr("width", x.bandwidth())
    .attr("y", d => y(Math.max(0, d)))
    .attr("height", d => Math.abs(y(d) - y(0)))
    .attr("fill", cfg.color)
    .attr("stroke", "#8c8c8c").attr("stroke-width", 0.6);

  g.selectAll("line.year").data([0, 12, 24, 36, 48]).join("line").attr("class", "year")
    .attr("x1", d => edges(d)).attr("x2", d => edges(d))
    .attr("y1", cfg.top).attr("y2", cfg.bottom)
    .attr("stroke", "#000").attr("stroke-width", 1.4);
  g.append("line").attr("x1", cfg.left).attr("x2", cfg.right).attr("y1", cfg.top).attr("y2", cfg.top)
    .attr("stroke", "#000").attr("stroke-width", 2);

  const yAxis = g.append("g").attr("transform", `translate(${cfg.left},0)`)
    .call(d3.axisLeft(y).tickValues(cfg.ticks).tickSize(9).tickSizeOuter(0).tickPadding(10).tickFormat(d3.format("d")));
  yAxis.selectAll("text").attr("font-size", tickFont).attr("font-family", "inherit")
    .text(d => String(d));
  yAxis.selectAll("line, .domain").attr("stroke-width", 1.5);

  const monthAxis = d3.axisBottom(edges).tickValues(d3.range(0, 49)).tickSize(9).tickSizeOuter(0).tickFormat("");
  g.append("g").attr("transform", `translate(0,${cfg.bottom})`).call(monthAxis)
    .select(".domain").attr("stroke-width", 2);
  if (cfg.domain[0] < 0) {
    g.append("g").attr("transform", `translate(0,${y(0)})`).call(monthAxis)
      .select(".domain").attr("stroke-width", 2);
  }

  const yearBand = d3.scaleBand().domain(years).range([cfg.left + cfg.yearShift, cfg.right + cfg.yearShift]);
  const yearAxis = g.append("g").attr("transform", `translate(0,${cfg.bottom})`)
    .call(d3.axisBottom(yearBand).tickSize(0));
  yearAxis.select(".domain").remove();
  yearAxis.selectAll("text").attr("font-size", tickFont).attr("font-family", "inherit").attr("y", 45).attr("dy", 0);
}

monthlyPanel({ left: 930, right: 2040, top: 1128, bottom: 1484, domain: [0, 80], ticks: d3.range(0, 81, 10), values: monthlyTemp, color: "#ff6600", yearShift: 3 });
monthlyPanel({ left: 933, right: 2042, top: 1570, bottom: 1927, domain: [-50, 250], ticks: d3.range(-50, 251, 50), values: monthlyPrecip, color: "#0099cc", yearShift: 0 });
monthlyPanel({ left: 933, right: 2042, top: 2015, bottom: 2371, domain: [-140, 0], ticks: d3.range(-140, 1, 20), values: monthlyPdsi, color: "#cc9966", yearShift: 0 });

rotatedLabel("Temperature anomaly (°C)", 831, 1307, sideFont);
rotatedLabel("Precipitation anomaly (mm)", 829, 1748, sideFont);
rotatedLabel("scPDSI anomaly", 823, 2196, sideFont);
</script>
</body>
</html>
